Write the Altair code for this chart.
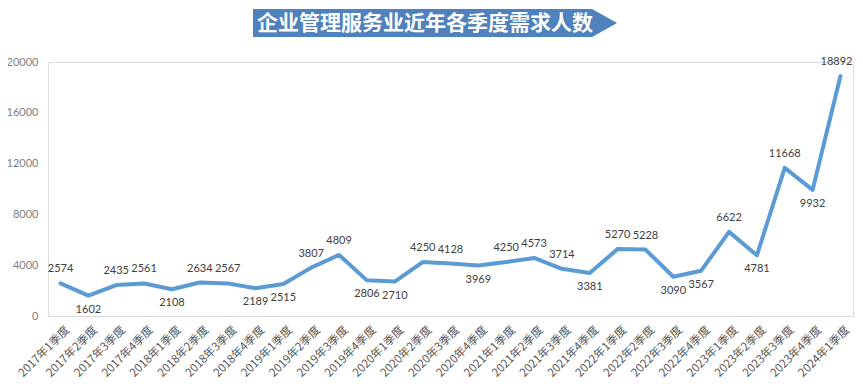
import altair as alt
import pandas as pd

quarters = [
    "2017年1季度", "2017年2季度", "2017年3季度", "2017年4季度",
    "2018年1季度", "2018年2季度", "2018年3季度", "2018年4季度",
    "2019年1季度", "2019年2季度", "2019年3季度", "2019年4季度",
    "2020年1季度", "2020年2季度", "2020年3季度", "2020年4季度",
    "2021年1季度", "2021年2季度", "2021年3季度", "2021年4季度",
    "2022年1季度", "2022年2季度", "2022年3季度", "2022年4季度",
    "2023年1季度", "2023年2季度", "2023年3季度", "2023年4季度",
    "2024年1季度",
]
demand = [
    2574, 1602, 2435, 2561,
    2108, 2634, 2567, 2189,
    2515, 3807, 4809, 2806,
    2710, 4250, 4128, 3969,
    4250, 4573, 3714, 3381,
    5270, 5228, 3090, 3567,
    6622, 4781, 11668, 9932,
    18892,
]
label_side = [
    "above", "below", "above", "above",
    "below", "above", "above", "below",
    "below", "above", "above", "below",
    "below", "above", "above", "below",
    "above", "above", "above", "below",
    "above", "above", "below", "below",
    "above", "below", "above", "below",
    "above_left",
]
y_ticks = [0, 4000, 8000, 12000, 16000, 20000]
title_text = "企业管理服务业近年各季度需求人数"

df = pd.DataFrame({"quarter": quarters, "demand": demand, "side": label_side})

x_enc = alt.X(
    "quarter:N",
    sort=None,
    scale=alt.Scale(type="point", padding=0.45),
    axis=alt.Axis(
        title=None,
        labelAngle=-45,
        labelAlign="right",
        labelBaseline="middle",
        labelFont="Noto Sans CJK SC",
        labelFontSize=11.5,
        labelColor="#595959",
        labelPadding=12,
        labelOffset=7,
        ticks=False,
        domainColor="#d9d9d9",
        domainWidth=1,
        grid=False,
        labelOverlap=False,
    ),
)
y_enc = alt.Y(
    "demand:Q",
    scale=alt.Scale(domain=[0, 20000], nice=False),
    axis=alt.Axis(
        title=None,
        values=y_ticks,
        format="d",
        domain=False,
        ticks=False,
        grid=False,
        labelFont="Lato",
        labelFontSize=11,
        labelColor="#7f7f7f",
        labelPadding=10,
    ),
)

base = alt.Chart(df)

line = base.mark_line(
    color="#5b9bd5", strokeWidth=4, strokeJoin="round", strokeCap="round"
).encode(x=x_enc, y=y_enc)

label_style = dict(font="Lato", fontSize=11, color="#404040", baseline="middle")
text_enc = alt.Text("demand:Q", format="d")

labels_above = base.transform_filter(alt.datum.side == "above").mark_text(
    dy=-14, **label_style
).encode(x=x_enc, y=y_enc, text=text_enc)

labels_above_left = base.transform_filter(alt.datum.side == "above_left").mark_text(
    dy=-14, dx=-4, **label_style
).encode(x=x_enc, y=y_enc, text=text_enc)

labels_below = base.transform_filter(alt.datum.side == "below").mark_text(
    dy=14, **label_style
).encode(x=x_enc, y=y_enc, text=text_enc)

banner_df = pd.DataFrame({"t": [title_text]})
# arrow-shaped banner: width 364 px, height 28 px
banner_path = "M-1,-0.077 L0.863,-0.077 L1,0 L0.863,0.077 L-1,0.077 Z"
banner = alt.Chart(banner_df).mark_point(
    shape=banner_path, filled=True, fill="#4f81bd", opacity=1, strokeWidth=0, size=364 * 364
).encode(x=alt.value(387), y=alt.value(-39))

banner_text = alt.Chart(banner_df).mark_text(
    font="Noto Sans CJK SC", fontSize=21, fontWeight="bold", color="white",
    align="center", baseline="middle"
).encode(x=alt.value(377), y=alt.value(-38), text="t:N")

chart = alt.layer(
    line, labels_above, labels_above_left, labels_below, banner, banner_text
).properties(
    width=805,
    height=254,
    autosize=alt.AutoSizeParams(type="none"),
    padding={"left": 40, "top": 54, "right": 2, "bottom": 65},
).configure_view(stroke=None).configure(background="white")

chart.save("out.html", embed_options={"renderer": "svg", "actions": False})
